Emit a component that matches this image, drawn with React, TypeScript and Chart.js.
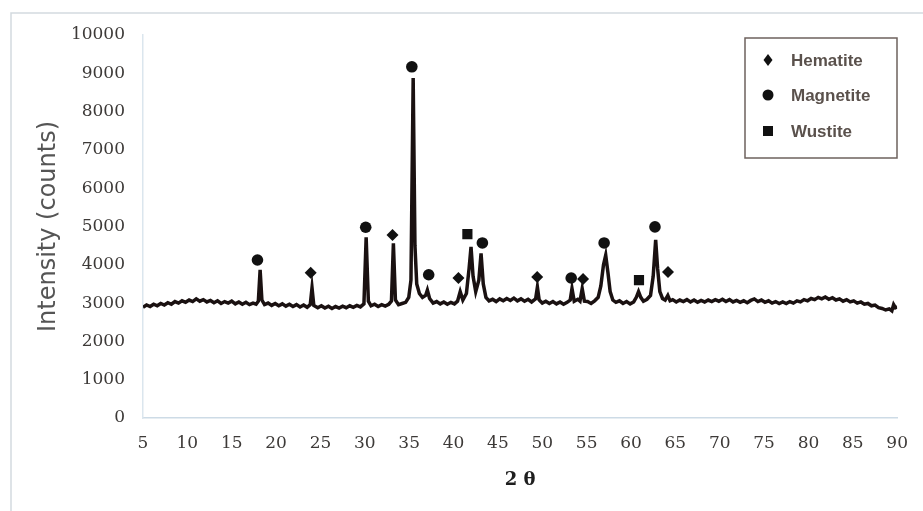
import React, { useEffect, useRef } from 'react';
import { Chart, registerables } from 'chart.js';

Chart.register(...registerables);

// 2θ (degrees), intensity (counts)
const scanA: [number, number][] = [
  [5.0, 2890], [5.4, 2950], [5.8, 2910], [6.2, 2970], [6.6, 2930], [7.0, 2990], [7.4, 2950], [7.8, 3010],
  [8.2, 2970], [8.6, 3040], [9.0, 3000], [9.4, 3060], [9.8, 3020], [10.2, 3080], [10.6, 3040], [11.0, 3110],
  [11.4, 3050], [11.8, 3090], [12.2, 3030], [12.6, 3070], [13.0, 3010], [13.4, 3060], [13.8, 2990], [14.2, 3040],
  [14.6, 3000], [15.0, 3050], [15.4, 2980], [15.8, 3030], [16.2, 2970], [16.6, 3020], [17.0, 2960], [17.4, 3000],
  [17.75, 2970], [18.0, 3050], [18.2, 3870], [18.4, 3080], [18.7, 2960], [19.1, 3000], [19.5, 2940], [19.9, 2990],
  [20.3, 2930], [20.7, 2980], [21.1, 2920], [21.5, 2970], [21.9, 2910], [22.3, 2960], [22.7, 2900], [23.1, 2950],
  [23.5, 2890], [23.85, 2960], [24.05, 3400], [24.25, 2940], [24.7, 2880], [25.1, 2930], [25.5, 2870], [25.9, 2920],
  [26.3, 2860], [26.7, 2910], [27.1, 2870], [27.5, 2920], [27.9, 2880], [28.3, 2930], [28.7, 2890], [29.1, 2940],
  [29.5, 2900], [29.9, 2980],
];

const scanB: [number, number][] = [
  [30.15, 4720], [30.4, 3050], [30.7, 2930], [31.1, 2970], [31.5, 2910], [31.9, 2960], [32.3, 2920], [32.7, 2970],
  [33.0, 3050], [33.22, 4560], [33.45, 3080], [33.8, 2960], [34.2, 2990], [34.6, 3020], [34.95, 3150], [35.2, 3600],
  [35.45, 8880], [35.65, 4500], [35.85, 3500], [36.15, 3250], [36.5, 3150], [36.85, 3200], [37.05, 3340], [37.3, 3120],
  [37.7, 3000], [38.1, 3040], [38.5, 2980], [38.9, 3030], [39.3, 2970], [39.7, 3020], [40.1, 2980], [40.45, 3050],
  [40.75, 3300], [41.05, 3080], [41.45, 3250], [41.75, 3900], [41.97, 4470], [42.2, 3700], [42.5, 3300], [42.85, 3600],
  [43.1, 4300], [43.35, 3500], [43.65, 3150], [44.0, 3060], [44.4, 3100], [44.8, 3040],
];

const scanC: [number, number][] = [
  [45.2, 3110], [45.6, 3060], [46.0, 3120], [46.4, 3070], [46.8, 3130], [47.2, 3060], [47.6, 3110], [48.0, 3050],
  [48.4, 3100], [48.8, 3030], [49.25, 3110], [49.45, 3420], [49.65, 3080], [50.0, 3000], [50.4, 3050], [50.8, 2990],
  [51.2, 3040], [51.6, 2980], [52.0, 3030], [52.4, 2970], [52.8, 3020], [53.15, 3080], [53.35, 3380], [53.6, 3050],
  [54.0, 3100], [54.25, 3050], [54.5, 3380], [54.75, 3050], [55.1, 3040], [55.5, 2990], [55.9, 3060], [56.3, 3150],
  [56.6, 3450], [56.9, 4000], [57.15, 4250], [57.4, 3800], [57.65, 3300], [57.95, 3080], [58.3, 3020], [58.7, 3060],
  [59.1, 2990], [59.5, 3040], [59.9, 2980], [60.3, 3030], [60.6, 3150], [60.85, 3300], [61.1, 3150], [61.4, 3050],
  [61.8, 3100], [62.2, 3200], [62.5, 3700], [62.78, 4650], [63.0, 3900], [63.25, 3300], [63.55, 3120], [63.85, 3080],
  [64.15, 3200], [64.4, 3060], [64.7, 3090],
];

const scanD: [number, number][] = [
  [65.1, 3030], [65.5, 3080], [65.9, 3040], [66.3, 3090], [66.7, 3030], [67.1, 3080], [67.5, 3020], [67.9, 3070],
  [68.3, 3030], [68.7, 3080], [69.1, 3040], [69.5, 3090], [69.9, 3050], [70.3, 3100], [70.7, 3040], [71.1, 3090],
  [71.5, 3030], [71.9, 3070], [72.3, 3020], [72.7, 3060], [73.1, 3010], [73.5, 3070], [73.9, 3110], [74.3, 3040],
  [74.7, 3080], [75.1, 3020], [75.5, 3060], [75.9, 3000], [76.3, 3040], [76.7, 2990], [77.1, 3030], [77.5, 2990],
  [77.9, 3040], [78.3, 3000], [78.7, 3060], [79.1, 3030], [79.5, 3090], [79.9, 3060], [80.3, 3120], [80.7, 3090],
  [81.1, 3150], [81.5, 3110], [81.9, 3160], [82.3, 3100], [82.7, 3140], [83.1, 3080], [83.5, 3110], [83.9, 3050],
  [84.3, 3090], [84.7, 3030], [85.1, 3060], [85.5, 3000], [85.9, 3030], [86.3, 2970], [86.7, 2990], [87.1, 2930],
  [87.5, 2950], [87.9, 2880], [88.3, 2860], [88.7, 2820], [89.1, 2850], [89.4, 2800], [89.6, 2960], [89.8, 2880],
  [90.0, 2900],
];

// Phase markers [2θ, counts]
const hematite: [number, number][] = [
  [23.9, 3790], [33.12, 4780], [40.55, 3655], [49.43, 3680], [54.6, 3630], [64.17, 3810],
];
const magnetite: [number, number][] = [
  [17.9, 4125], [30.1, 4980], [35.3, 9170], [37.2, 3740], [43.25, 4570], [53.26, 3655], [56.97, 4570], [62.7, 4990],
];
const wustite: [number, number][] = [
  [41.56, 4800], [60.9, 3600],
];

const phaseNames = ['Hematite', 'Magnetite', 'Wustite'];
const phaseStyles = ['rectRot', 'circle', 'rect'];

const xMin = 5;
const xMax = 90;
const xStep = 5;
const yMin = 0;
const yMax = 10000;
const yStep = 1000;

const toPts = (a: [number, number][]) => a.map(([x, y]) => ({ x, y }));

function drawMarker(ctx: CanvasRenderingContext2D, style: string, x: number, y: number) {
  ctx.beginPath();
  if (style === 'circle') {
    ctx.arc(x, y, 5.5, 0, Math.PI * 2);
  } else if (style === 'rectRot') {
    ctx.moveTo(x, y - 6);
    ctx.lineTo(x + 4.5, y);
    ctx.lineTo(x, y + 6);
    ctx.lineTo(x - 4.5, y);
    ctx.closePath();
  } else {
    ctx.rect(x - 5, y - 5, 10, 10);
  }
  ctx.fill();
}

const framePlugin = {
  id: 'frame',
  beforeDraw(chart: any) {
    const { ctx, width, height } = chart;
    ctx.save();
    ctx.fillStyle = '#ffffff';
    ctx.fillRect(0, 0, width, height);
    ctx.strokeStyle = '#d3dadf';
    ctx.lineWidth = 1.5;
    ctx.beginPath();
    ctx.moveTo(11, height);
    ctx.lineTo(11, 13);
    ctx.lineTo(width, 13);
    ctx.stroke();
    ctx.restore();
  },
};

const boxLegendPlugin = {
  id: 'boxLegend',
  afterDraw(chart: any) {
    const { ctx } = chart;
    ctx.save();
    ctx.strokeStyle = '#6d625d';
    ctx.lineWidth = 1.5;
    ctx.fillStyle = '#ffffff';
    ctx.fillRect(745, 38, 152, 120);
    ctx.strokeRect(745, 38, 152, 120);
    const rows = [60, 95, 131];
    chart.data.datasets.forEach((ds: any) => {
      const idx = phaseNames.indexOf(ds.label);
      if (idx < 0) return;
      const y = rows[idx];
      ctx.fillStyle = '#111111';
      drawMarker(ctx, phaseStyles[idx], 768, y);
      ctx.fillStyle = '#5a514c';
      ctx.font = 'bold 17px "Liberation Sans", Arial, sans-serif';
      ctx.textBaseline = 'middle';
      ctx.textAlign = 'left';
      ctx.fillText(ds.label, 791, y + 1);
    });
    ctx.restore();
  },
};

export default function App() {
  const ref = useRef<HTMLCanvasElement>(null);

  useEffect(() => {
    const canvas = ref.current;
    if (!canvas) return;
    const scan = [...scanA, ...scanB, ...scanC, ...scanD];
    const markerSets = [hematite, magnetite, wustite];
    const chart = new Chart(canvas, {
      type: 'scatter',
      data: {
        datasets: [
          {
            label: 'XRD',
            data: toPts(scan),
            showLine: true,
            borderColor: '#1a1111',
            backgroundColor: '#1a1111',
            borderWidth: 3.5,
            pointRadius: 0,
            tension: 0,
            order: 2,
          } as any,
          ...markerSets.map((set, i) => ({
            label: phaseNames[i],
            data: toPts(set),
            pointStyle: phaseStyles[i],
            pointRadius: i === 2 ? 7.2 : i === 0 ? 6 : 5.8,
            backgroundColor: '#111111',
            borderColor: '#111111',
            borderWidth: 0,
            showLine: false,
            order: 1,
          })) as any,
        ],
      },
      options: {
        responsive: false,
        animation: false,
        devicePixelRatio: 1,
        layout: { padding: { left: 0, top: 35, right: 23, bottom: 0 } },
        plugins: {
          legend: { display: false },
          tooltip: { enabled: false },
        },
        scales: {
          x: {
            type: 'linear',
            min: xMin,
            max: xMax,
            afterFit: (s: any) => {
              s.height = 93;
            },
            grid: { display: false, drawTicks: false },
            border: { display: true, color: '#cddbe6', width: 1.5 },
            ticks: {
              stepSize: xStep,
              padding: 15,
              color: '#3d3a38',
              font: { family: '"DejaVu Serif", serif', size: 17 },
              callback: (v: any) => String(v),
            },
            title: {
              display: true,
              text: '2 θ',
              color: '#1e1e1e',
              font: { family: '"DejaVu Serif", serif', size: 18, weight: 'bold' },
              padding: { top: 0, bottom: 20 },
            },
          },
          y: {
            type: 'linear',
            min: yMin,
            max: yMax,
            afterFit: (s: any) => {
              s.width = 143;
            },
            grid: { display: false, drawTicks: false },
            border: { display: true, color: '#dbe6ee', width: 1.5 },
            ticks: {
              stepSize: yStep,
              padding: 18,
              color: '#3d3a38',
              font: { family: '"DejaVu Serif", serif', size: 17 },
              callback: (v: any) => String(v),
            },
            title: {
              display: true,
              text: 'Intensity (counts)',
              color: '#555555',
              font: { family: '"DejaVu Sans", sans-serif', size: 24 },
              padding: { top: 34, bottom: 0 },
            },
          },
        },
      } as any,
      plugins: [framePlugin, boxLegendPlugin],
    });
    return () => chart.destroy();
  }, []);

  return (
    <canvas
      ref={ref}
      width={923}
      height={511}
      style={{ position: 'absolute', left: 0, top: 0, display: 'block' }}
    />
  );
}
